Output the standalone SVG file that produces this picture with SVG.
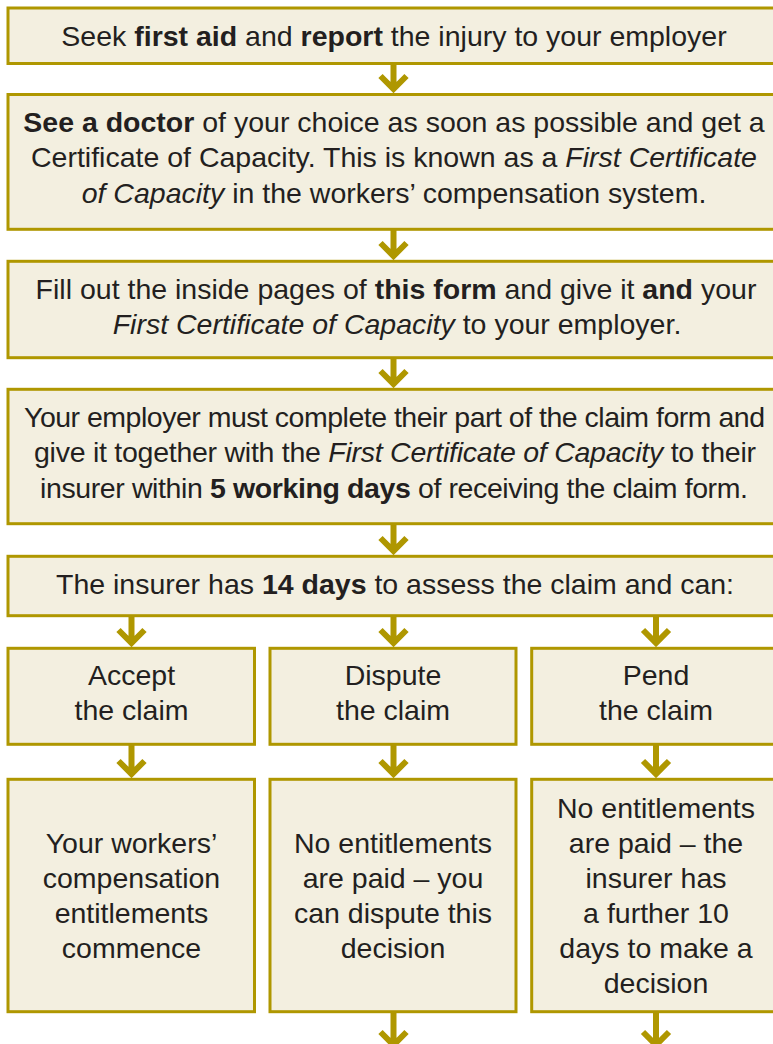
<svg xmlns="http://www.w3.org/2000/svg" width="773" height="1044" viewBox="0 0 773 1044">
<style>
.box{fill:#f3efe0;stroke:#af9700;stroke-width:3}
.t{font-family:"Liberation Sans",Arial,sans-serif;font-size:28.5px;fill:#231f20;text-anchor:middle}
.b{font-weight:bold}
.i{font-style:italic}
.arr{stroke:#af9700;stroke-width:6;fill:none;stroke-linejoin:miter;stroke-miterlimit:4}
</style>
<rect width="773" height="1044" fill="#ffffff"/>
<g id="connectors">
<path class="arr" d="M393.5,64 V89 M380.5,76 L393.5,89 L406.5,76"/>
<path class="arr" d="M393.5,230 V256 M380.5,243 L393.5,256 L406.5,243"/>
<path class="arr" d="M393.5,358 V384 M380.5,371 L393.5,384 L406.5,371"/>
<path class="arr" d="M393.5,524 V551 M380.5,538 L393.5,551 L406.5,538"/>
<path class="arr" d="M131.5,616 V643 M118.5,630 L131.5,643 L144.5,630"/>
<path class="arr" d="M393.5,616 V643 M380.5,630 L393.5,643 L406.5,630"/>
<path class="arr" d="M656,616 V643 M643,630 L656,643 L669,630"/>
<path class="arr" d="M131.5,745 V774 M118.5,761 L131.5,774 L144.5,761"/>
<path class="arr" d="M393.5,745 V774 M380.5,761 L393.5,774 L406.5,761"/>
<path class="arr" d="M656,745 V774 M643,761 L656,774 L669,761"/>
<path class="arr" d="M393.5,1012 V1045 M380.5,1032 L393.5,1045 L406.5,1032"/>
<path class="arr" d="M656,1012 V1045 M643,1032 L656,1045 L669,1032"/>
</g>
<g id="step1">
<rect class="box" x="8" y="8" width="800" height="55.5"/>
<text class="t" x="394" y="45.5">Seek <tspan class="b">first aid</tspan> and <tspan class="b">report</tspan> the injury to your employer</text>
</g>
<g id="step2">
<rect class="box" x="8" y="94.5" width="800" height="134.8"/>
<text class="t" x="394" y="131.5"><tspan class="b">See a doctor</tspan> of your choice as soon as possible and get a</text>
<text class="t" x="394" y="167">Certificate of Capacity. This is known as a <tspan class="i">First Certificate</tspan></text>
<text class="t" x="394" y="202.5"><tspan class="i">of Capacity</tspan> in the workers’ compensation system.</text>
</g>
<g id="step3">
<rect class="box" x="8" y="261.3" width="800" height="96.4"/>
<text class="t" x="396" y="298.5">Fill out the inside pages of <tspan class="b">this form</tspan> and give it <tspan class="b">and</tspan> your</text>
<text class="t" x="397" y="334"><tspan class="i">First Certificate of Capacity</tspan> to your employer.</text>
</g>
<g id="step4">
<rect class="box" x="8" y="389.3" width="800" height="134.4"/>
<text class="t" x="394.5" y="426.5" textLength="741" lengthAdjust="spacing">Your employer must complete their part of the claim form and</text>
<text class="t" x="395" y="462" textLength="722" lengthAdjust="spacing">give it together with the <tspan class="i">First Certificate of Capacity</tspan> to their</text>
<text class="t" x="394" y="497.5" textLength="708" lengthAdjust="spacing">insurer within <tspan class="b">5 working days</tspan> of receiving the claim form.</text>
</g>
<g id="step5">
<rect class="box" x="8" y="556.3" width="800" height="59.4"/>
<text class="t" x="395" y="593.5">The insurer has <tspan class="b">14 days</tspan> to assess the claim and can:</text>
</g>
<g id="accept">
<rect class="box" x="8" y="648.3" width="246.5" height="96"/>
<text class="t" x="131.5" y="684.5">Accept</text>
<text class="t" x="131.5" y="720">the claim</text>
</g>
<g id="dispute">
<rect class="box" x="270" y="648.3" width="246" height="96"/>
<text class="t" x="393" y="684.5">Dispute</text>
<text class="t" x="393" y="720">the claim</text>
</g>
<g id="pend">
<rect class="box" x="531.7" y="648.3" width="280" height="96"/>
<text class="t" x="656" y="684.5">Pend</text>
<text class="t" x="656" y="720">the claim</text>
</g>
<g id="accept-result">
<rect class="box" x="8" y="779.3" width="246.5" height="232.4"/>
<text class="t" x="131.5" y="853">Your workers’</text>
<text class="t" x="131.5" y="888">compensation</text>
<text class="t" x="131.5" y="923">entitlements</text>
<text class="t" x="131.5" y="958">commence</text>
</g>
<g id="dispute-result">
<rect class="box" x="270" y="779.3" width="246" height="232.4"/>
<text class="t" x="393" y="853">No entitlements</text>
<text class="t" x="393" y="888">are paid – you</text>
<text class="t" x="393" y="923">can dispute this</text>
<text class="t" x="393" y="958">decision</text>
</g>
<g id="pend-result">
<rect class="box" x="531.7" y="779.3" width="280" height="232.4"/>
<text class="t" x="656" y="817.5">No entitlements</text>
<text class="t" x="656" y="852.5">are paid – the</text>
<text class="t" x="656" y="887.5">insurer has</text>
<text class="t" x="656" y="922.5">a further 10</text>
<text class="t" x="656" y="957.5">days to make a</text>
<text class="t" x="656" y="992.5">decision</text>
</g>
</svg>
